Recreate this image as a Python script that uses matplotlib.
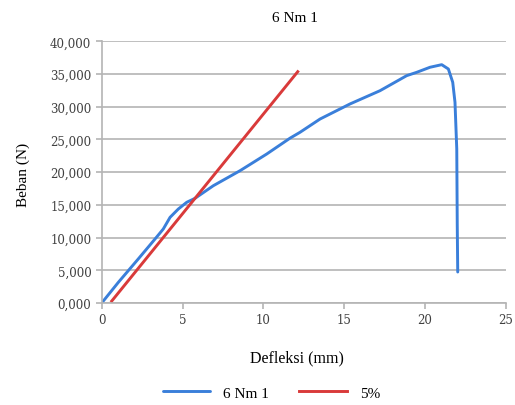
import matplotlib
matplotlib.use("Agg")
import matplotlib.pyplot as plt
import matplotlib.ticker as ticker

# blue curve: 6 Nm 1 (deflection mm, load N)
defl_6nm = [0.0, 1.03, 2.26, 3.30, 3.81, 4.23, 4.74, 5.26, 5.77, 6.91, 8.56, 10.21,
            11.65, 12.27, 13.51, 15.36, 17.22, 18.87, 19.49, 20.31, 21.04, 21.45,
            21.72, 21.86, 21.97, 22.0, 22.03]
load_6nm = [0, 3165, 6730, 9790, 11315, 13100, 14370, 15400, 16000, 17940, 20230,
            22780, 25200, 26100, 28130, 30430, 32460, 34760, 35270, 36040, 36440,
            35780, 33750, 30690, 23550, 12000, 4740]

# red line: 5% offset
defl_5 = [0.62, 12.13]
load_5 = [300, 35370]

xticks = [0, 5, 10, 15, 20, 25]
yticks = [0, 5000, 10000, 15000, 20000, 25000, 30000, 35000, 40000]

serif = ["Liberation Serif", "DejaVu Serif"]
tickfont = "DejaVu Serif"

fig = plt.figure(figsize=(5.15, 4.06), dpi=100)
ax = fig.add_axes([0.1975, 0.2512, 0.7845, 0.6444])

ax.plot(defl_6nm, load_6nm, color="#3a7fda", lw=2.1, label="6 Nm 1",
        solid_capstyle="round", solid_joinstyle="round")
ax.plot(defl_5, load_5, color="#d93a3a", lw=2.1, label="5%")

ax.set_xlim(0, 25)
ax.set_ylim(0, 40000)
ax.set_xticks(xticks)
ax.set_yticks(yticks)
ax.yaxis.set_major_formatter(ticker.FuncFormatter(lambda v, p: "%d,%03d" % (v // 1000, v % 1000)))
ax.grid(axis="y", color="#b4b4b4", lw=1.2)
ax.set_axisbelow(True)
for s in ["top", "right"]:
    ax.spines[s].set_visible(False)
for s in ["left", "bottom"]:
    ax.spines[s].set_color("#b4b4b4")
    ax.spines[s].set_linewidth(1.2)
ax.tick_params(axis="both", colors="#b4b4b4", length=4, width=1.2, labelcolor="#404040")
for lab in ax.get_xticklabels() + ax.get_yticklabels():
    lab.set_fontfamily(tickfont)
    lab.set_fontsize(8.5)

fig.text(0.573, 0.955, "6 Nm 1", family=serif, fontsize=11, ha="center", va="center")
fig.text(0.577, 0.118, "Defleksi (mm)", family=serif, fontsize=11.5, ha="center", va="center")
fig.text(0.045, 0.57, "Beban (N)", family=serif, fontsize=11, ha="center", va="center", rotation=90)

fig.legend(loc="center", bbox_to_anchor=(0.527, 0.03), ncol=2, frameon=False,
           prop={"family": serif, "size": 11}, handlelength=3.1, handletextpad=0.85,
           columnspacing=2.0)

fig.savefig("out.png", dpi=100)
